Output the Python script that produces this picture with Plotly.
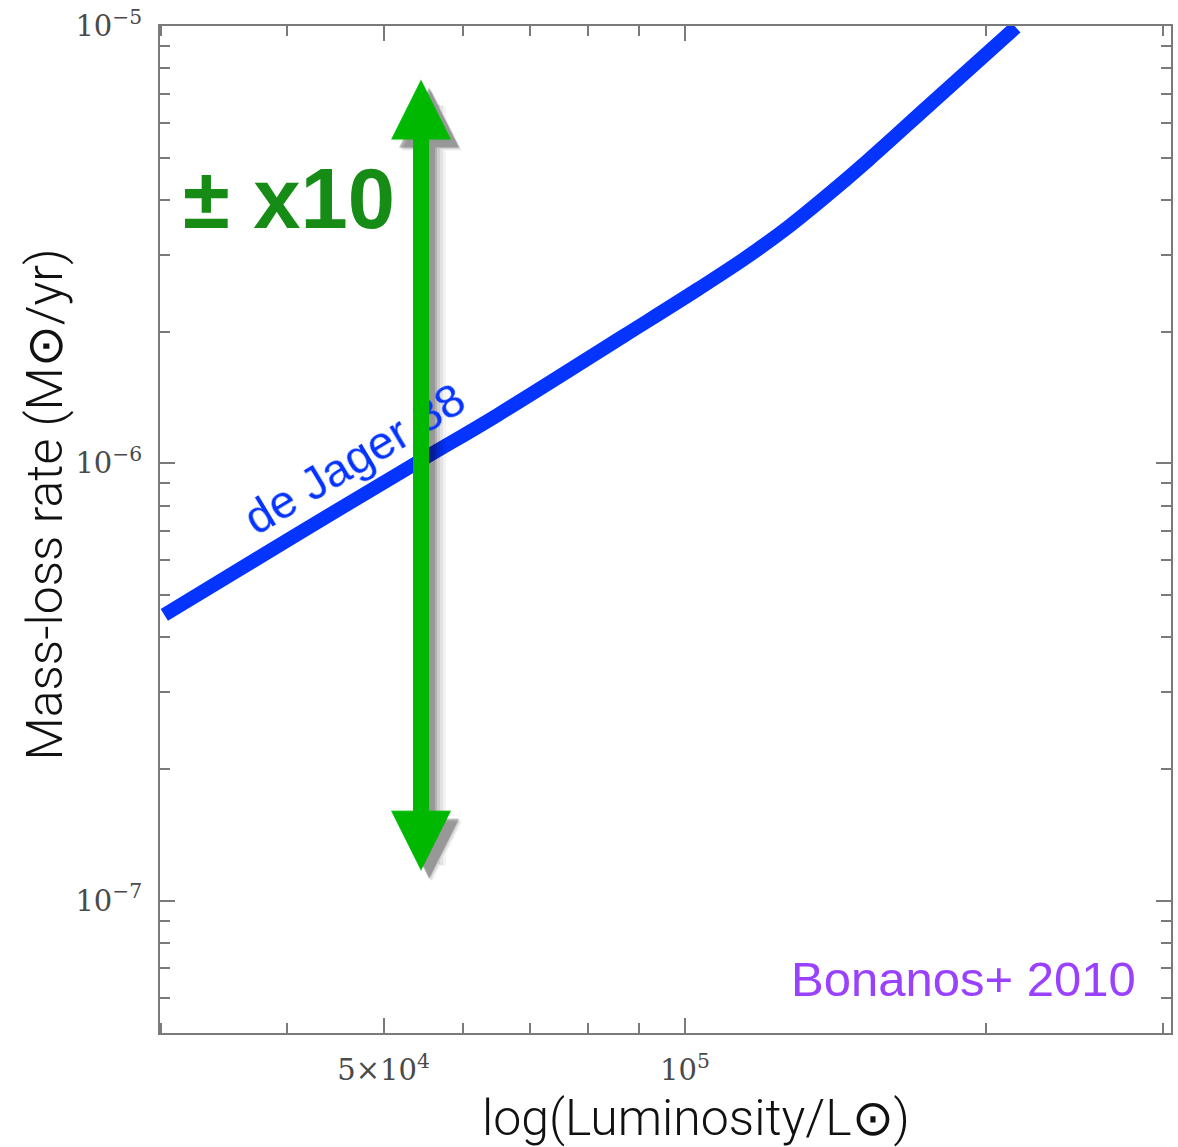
import numpy as np
import plotly.graph_objects as go

# de Jager (1988) mass-loss prescription
luminosity = [3.02e4, 4.12e4, 5.45e4, 6.5e4, 8.7e4, 1.03e5, 1.15e5, 1.27e5,
              1.38e5, 1.525e5, 1.76e5, 2.14e5]
mass_loss = [4.5e-7, 6.93e-7, 1.016e-6, 1.29e-6, 1.96e-6, 2.5e-6, 2.95e-6, 3.48e-6,
             4.06e-6, 4.94e-6, 6.64e-6, 9.93e-6]

# uncertainty bar: a factor of ~10 either way around 1e-6
arrow_lum = 5.45e4
arrow_top = 7.6e-6
arrow_bottom = 1.17e-7

x_major = [5e4, 1e5]
x_major_text = ["5×10<sup>4</sup>", "10<sup>5</sup>"]
x_minor = [3e4, 4e4, 6e4, 7e4, 8e4, 9e4, 2e5, 3e5]

y_major = [1e-7, 1e-6, 1e-5]
y_major_text = ["10<sup>−7</sup>", "10<sup>−6</sup>", "10<sup>−5</sup>"]
y_minor = [m * 10.0 ** e for e in (-8, -7, -6) for m in range(2, 10)]

x_range = [4.4757, 5.4854]
y_range = [-7.303, -5.0]

AXIS_GREY = "#7a7a7a"
TICK_FONT = dict(family="DejaVu Serif", size=29, color="#4a4a4a")
TITLE_FONT = dict(family="Roboto", size=50, color="#111111", weight=300)

fig = go.Figure()

fig.add_trace(go.Scatter(
    x=luminosity, y=mass_loss, mode="lines",
    line=dict(color="#0533ff", width=14, shape="spline", smoothing=1.0),
    hoverinfo="skip", showlegend=False,
))

ax_common = dict(
    type="log", showgrid=False, zeroline=False,
    showline=True, linecolor=AXIS_GREY, linewidth=2, mirror="ticks",
    ticks="inside", ticklen=15, tickwidth=2, tickcolor=AXIS_GREY,
    tickfont=TICK_FONT, ticklabelstandoff=10,
)

fig.update_xaxes(
    range=x_range, tickmode="array", tickvals=x_major, ticktext=x_major_text,
    minor=dict(tickmode="array", tickvals=x_minor, ticks="inside",
               ticklen=10, tickwidth=2, tickcolor=AXIS_GREY, showgrid=False),
    **ax_common,
)
fig.update_yaxes(
    range=y_range, tickmode="array", tickvals=y_major, ticktext=y_major_text,
    minor=dict(tickmode="array", tickvals=y_minor, ticks="inside",
               ticklen=10, tickwidth=2, tickcolor=AXIS_GREY, showgrid=False),
    **ax_common,
)

ax_log = float(np.log10(arrow_lum))
top_log = float(np.log10(arrow_top))
bot_log = float(np.log10(arrow_bottom))


def double_arrow(color, width, size, dx=0, dy=0):
    return dict(
        x=ax_log, y=bot_log, ax=ax_log, ay=top_log,
        xref="x", yref="y", axref="x", ayref="y",
        text="", showarrow=True, arrowside="end+start",
        arrowhead=2, startarrowhead=2,
        arrowsize=size, startarrowsize=size,
        arrowwidth=width, arrowcolor=color,
        standoff=0, startstandoff=0,
        xshift=dx, yshift=dy,
    )


annotations = []
# soft drop shadow behind the arrow
for w, a, dx, dy in [(28, 0.05, 11, -11), (24, 0.07, 10, -10),
                     (20, 0.09, 9, -9), (16, 0.13, 8, -8), (12, 0.15, 8, -8)]:
    annotations.append(double_arrow(f"rgba(0,0,0,{a})", w, 0.75 * 16 / w, dx, dy))

annotations.append(dict(
    x=0.1915, y=0.5707, xref="paper", yref="paper",
    text="de Jager 88", showarrow=False, textangle=-31,
    font=dict(family="Liberation Sans", size=47, color="#0533ff"),
    xanchor="center", yanchor="middle",
))

annotations.append(double_arrow("#00b800", 16, 0.75))

annotations += [
    dict(x=0.128, y=0.829, xref="paper", yref="paper", text="<b>± x10</b>",
         showarrow=False, xanchor="center", yanchor="middle",
         font=dict(family="Liberation Sans", size=85, color="#168c16")),
    dict(x=0.7947, y=0.0534, xref="paper", yref="paper", text="Bonanos+ 2010",
         showarrow=False, xanchor="center", yanchor="middle",
         font=dict(family="Liberation Sans", size=49, color="#9a40ff")),
    dict(x=-0.1135, y=0.525, xref="paper", yref="paper",
         text="Mass-loss rate (M⊙/yr)", textangle=-90, showarrow=False,
         xanchor="center", yanchor="middle", font=TITLE_FONT),
    dict(x=0.530, y=-0.084, xref="paper", yref="paper",
         text="log(Luminosity/L⊙)", showarrow=False,
         xanchor="center", yanchor="middle", font=TITLE_FONT),
]

fig.update_layout(
    width=1178, height=1147,
    margin=dict(l=160, r=5, t=22, b=114),
    paper_bgcolor="white", plot_bgcolor="white",
    showlegend=False,
    annotations=annotations,
)

fig.write_html("out.html")
